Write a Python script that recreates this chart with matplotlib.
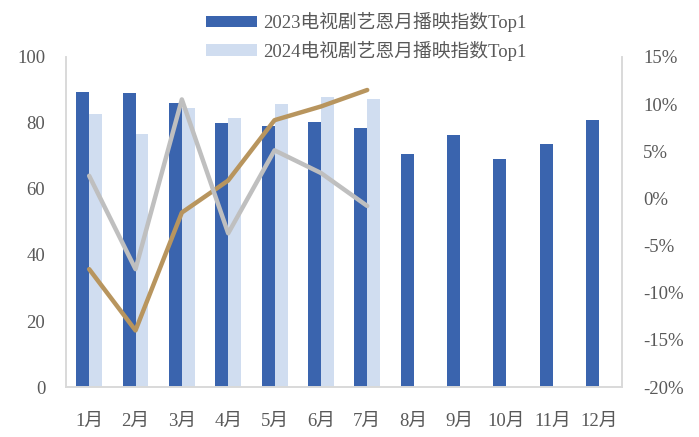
import numpy as np
import matplotlib.pyplot as plt
from matplotlib.ticker import FuncFormatter

plt.rcParams['font.family'] = ['Liberation Serif', 'Noto Sans CJK SC']

months = ['1月', '2月', '3月', '4月', '5月', '6月', '7月', '8月', '9月', '10月', '11月', '12月']
top1_2023 = [89.4, 89.1, 86.0, 80.0, 79.0, 80.3, 78.4, 70.7, 76.3, 69.0, 73.5, 80.8]
top1_2024 = [82.7, 76.6, 84.5, 81.4, 85.7, 88.0, 87.3]
# two growth-rate lines on the right axis (%)
line_gold = [-7.5, -14.0, -1.5, 1.9, 8.3, 9.75, 11.5]
line_gray = [2.4, -7.5, 10.5, -3.7, 5.1, 2.7, -0.8]

c_dark = '#3A64AE'
c_light = '#D0DDF0'
c_gold = '#B8955E'
c_gray = '#BFBFBF'
c_axis = '#D9D9D9'
c_text = '#595959'
fs = 13.5

fig = plt.figure(figsize=(6.99, 4.37), dpi=100)
ax = fig.add_axes([0.0944, 0.1144, 0.7956, 0.7552])
ax2 = ax.twinx()

x = np.arange(len(months))
w = 0.28
ax.bar(x - w / 2, top1_2023, w, color=c_dark, label='2023电视剧艺恩月播映指数Top1', zorder=2)
ax.bar(x[:len(top1_2024)] + w / 2, top1_2024, w, color=c_light, label='2024电视剧艺恩月播映指数Top1', zorder=2)

ax2.plot(x[:len(line_gold)], line_gold, color=c_gold, lw=3.2, solid_capstyle='round')
ax2.plot(x[:len(line_gray)], line_gray, color=c_gray, lw=3.2, solid_capstyle='round')

ax.set_xlim(-0.5, 11.5)
ax.set_ylim(0, 100)
ax.set_yticks(range(0, 101, 20))
ax2.set_ylim(-20, 15)
ax2.set_yticks(range(-20, 16, 5))
ax2.yaxis.set_major_formatter(FuncFormatter(lambda v, p: f'{v:.0f}%'))
ax.set_xticks(x)
ax.set_xticklabels(months)

for a in (ax, ax2):
    a.spines['top'].set_visible(False)
    for s in ('left', 'right', 'bottom'):
        a.spines[s].set_color(c_axis)
        a.spines[s].set_linewidth(1.2)
    a.tick_params(length=0, labelsize=fs, colors=c_text)
ax.tick_params(axis='y', pad=15)
ax.tick_params(axis='x', pad=19)
ax2.tick_params(axis='y', pad=15)

ax.set_zorder(ax2.get_zorder() - 1)
ax.patch.set_visible(True)
ax2.patch.set_visible(False)

leg = fig.legend(loc='upper left', bbox_to_anchor=(206 / 699, 1 - 12 / 437), frameon=False,
                 fontsize=fs, handlelength=2.7, handleheight=0.6,
                 labelspacing=0.45, handletextpad=0.35, borderpad=0, borderaxespad=0)
for t in leg.get_texts():
    t.set_color(c_text)

fig.savefig('out.png', dpi=100)
